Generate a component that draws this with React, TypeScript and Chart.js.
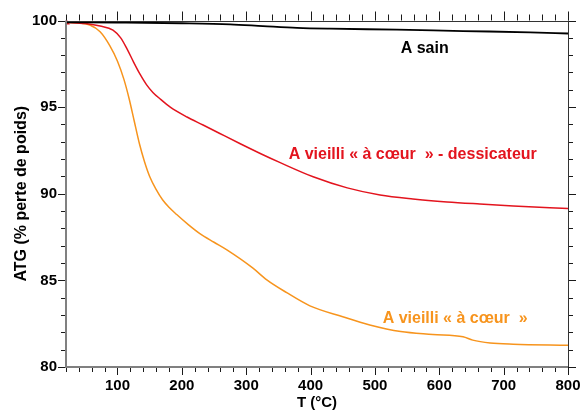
import React, { useEffect, useRef } from "react";
import { Chart, registerables } from "chart.js";

Chart.register(...registerables);

// ---- data ----
const sainT = [20, 100, 200, 275, 326, 379, 430, 534, 637, 741, 800];
const sainW = [99.9, 99.88, 99.84, 99.78, 99.68, 99.58, 99.53, 99.47, 99.39, 99.32, 99.25];

const dessT = [20, 50, 73, 93, 105, 115, 125, 135, 145, 155, 167, 182, 208, 233, 259, 290, 321, 352, 404, 457, 508, 559, 612, 663, 715, 800];
const dessW = [99.9, 99.82, 99.68, 99.45, 99.0, 98.35, 97.6, 96.9, 96.3, 95.85, 95.45, 95.0, 94.43, 93.97, 93.48, 92.9, 92.34, 91.81, 90.98, 90.34, 89.93, 89.7, 89.53, 89.41, 89.3, 89.15];

const coeurT = [20, 40, 57, 73, 88, 100, 110, 118, 126, 134, 142, 150, 160, 170, 180, 192, 210, 228, 250, 270, 310, 332, 363, 399, 450, 492, 540, 590, 637, 652, 679, 715, 800];
const coeurW = [99.9, 99.85, 99.74, 99.35, 98.55, 97.65, 96.6, 95.5, 94.2, 92.9, 91.85, 91.0, 90.25, 89.65, 89.22, 88.8, 88.22, 87.7, 87.2, 86.76, 85.72, 85.03, 84.29, 83.53, 82.9, 82.43, 82.05, 81.88, 81.74, 81.55, 81.39, 81.32, 81.26];

const xTickLabels = [100, 200, 300, 400, 500, 600, 700, 800];
const yTickLabels = [80, 85, 90, 95, 100];

const seriesNames = ["A sain", "A vieilli « à cœur  » - dessicateur", "A vieilli « à cœur  »"];
const seriesColors = ["#000000", "#e3141e", "#f7941d"];

const xTitle = "T (°C)";
const yTitle = "ATG (% perte de poids)";

const FONT = "'Liberation Sans', Arial, sans-serif";

// label anchors in data units (left edge, vertical middle)
const labelAnchors = [
  { x: 540, y: 98.38 },
  { x: 366, y: 92.27 },
  { x: 512, y: 82.78 },
];

const toPts = (xs: number[], ys: number[]) => xs.map((x, i) => ({ x, y: ys[i] }));

const decorPlugin = {
  id: "decor",
  afterDatasetsDraw(chart: any) {
    const { ctx, chartArea, scales } = chart;
    const { left, right, top, bottom } = chartArea;
    const xs = scales.x;
    const ys = scales.y;
    ctx.save();
    ctx.strokeStyle = "#1a1a1a";
    ctx.lineWidth = 1;
    ctx.beginPath();
    for (let v = 20; v <= 800; v += 20) {
      const px = Math.round(xs.getPixelForValue(v)) + 0.5;
      const major = v % 100 === 0;
      ctx.moveTo(px, bottom);
      ctx.lineTo(px, bottom + (major ? 8 : 5));
      ctx.moveTo(px, top);
      ctx.lineTo(px, top - (major ? 9 : 6));
    }
    for (let v = 80; v <= 100; v += 1) {
      const py = Math.round(ys.getPixelForValue(v)) + 0.5;
      const major = v % 5 === 0;
      ctx.moveTo(left, py);
      ctx.lineTo(left - (major ? 8 : 5), py);
      ctx.moveTo(right, py);
      ctx.lineTo(right + (major ? 8 : 5), py);
    }
    ctx.stroke();
    ctx.strokeStyle = "#333333";
    ctx.lineWidth = 1;
    ctx.beginPath();
    ctx.moveTo(left, Math.round(top) + 0.5);
    ctx.lineTo(right, Math.round(top) + 0.5);
    ctx.moveTo(Math.round(right) + 0.5, top);
    ctx.lineTo(Math.round(right) + 0.5, bottom);
    ctx.stroke();
    ctx.strokeStyle = "#808080";
    ctx.lineWidth = 2;
    ctx.beginPath();
    ctx.moveTo(left, top);
    ctx.lineTo(left, bottom);
    ctx.lineTo(right, bottom);
    ctx.stroke();
    ctx.font = `bold 16px ${FONT}`;
    ctx.textAlign = "left";
    ctx.textBaseline = "middle";
    labelAnchors.forEach((a, i) => {
      ctx.fillStyle = seriesColors[i];
      ctx.fillText(seriesNames[i], xs.getPixelForValue(a.x), ys.getPixelForValue(a.y));
    });
    ctx.restore();
  },
};

const zeroPad = (s: any) => {
  s.paddingLeft = 0;
  s.paddingRight = 0;
  s.paddingTop = 0;
  s.paddingBottom = 0;
};

export default function App() {
  const ref = useRef<HTMLCanvasElement>(null);
  useEffect(() => {
    if (!ref.current) return;
    const tickFont = { family: FONT, size: 15, weight: "bold" as const };
    const chart = new Chart(ref.current, {
      type: "line",
      data: {
        datasets: [
          { label: seriesNames[0], data: toPts(sainT, sainW), borderColor: seriesColors[0], borderWidth: 1.8, pointRadius: 0, cubicInterpolationMode: "monotone" },
          { label: seriesNames[1], data: toPts(dessT, dessW), borderColor: seriesColors[1], backgroundColor: seriesColors[1], borderWidth: 1.5, pointRadius: (c: any) => (c.dataIndex === 0 ? 3 : 0), pointStyle: "triangle", cubicInterpolationMode: "monotone" },
          { label: seriesNames[2], data: toPts(coeurT, coeurW), borderColor: seriesColors[2], borderWidth: 1.5, pointRadius: 0, cubicInterpolationMode: "monotone" },
        ],
      },
      options: {
        responsive: false,
        animation: false,
        layout: { padding: 0 },
        plugins: { legend: { display: false }, tooltip: { enabled: false } },
        scales: {
          x: {
            type: "linear",
            position: "bottom",
            min: 20,
            max: 800,
            grid: { display: false, drawTicks: false },
            border: { display: false },
            afterBuildTicks: (s: any) => { s.ticks = xTickLabels.map((v) => ({ value: v })); },
            ticks: { font: tickFont, color: "#000", padding: 10, maxRotation: 0, autoSkip: false },
            title: { display: true, text: xTitle, color: "#000", font: tickFont, padding: { top: 0, bottom: 0 } },
            afterFit: (s: any) => { s.height = 45; zeroPad(s); },
          },
          x2: {
            type: "linear",
            position: "top",
            min: 20,
            max: 800,
            grid: { display: false, drawTicks: false },
            border: { display: false },
            ticks: { display: false },
            afterFit: (s: any) => { s.height = 20.5; zeroPad(s); },
          },
          y: {
            type: "linear",
            position: "left",
            min: 80,
            max: 100,
            grid: { display: false, drawTicks: false },
            border: { display: false },
            afterBuildTicks: (s: any) => { s.ticks = yTickLabels.map((v) => ({ value: v })); },
            ticks: { font: tickFont, color: "#000", padding: 9, autoSkip: false },
            title: { display: true, text: yTitle, color: "#000", font: { family: FONT, size: 16, weight: "bold" }, padding: { top: 12, bottom: 0 } },
            afterFit: (s: any) => { s.width = 66; zeroPad(s); },
          },
          y2: {
            type: "linear",
            position: "right",
            min: 80,
            max: 100,
            grid: { display: false, drawTicks: false },
            border: { display: false },
            ticks: { display: false },
            afterFit: (s: any) => { s.width = 13; zeroPad(s); },
          },
        },
      },
      plugins: [decorPlugin],
    } as any);
    return () => chart.destroy();
  }, []);
  return (
    <div style={{ position: "fixed", left: 0, top: 0, width: 581, height: 412, background: "#fff" }}>
      <canvas ref={ref} width={581} height={412} style={{ display: "block" }} />
    </div>
  );
}
